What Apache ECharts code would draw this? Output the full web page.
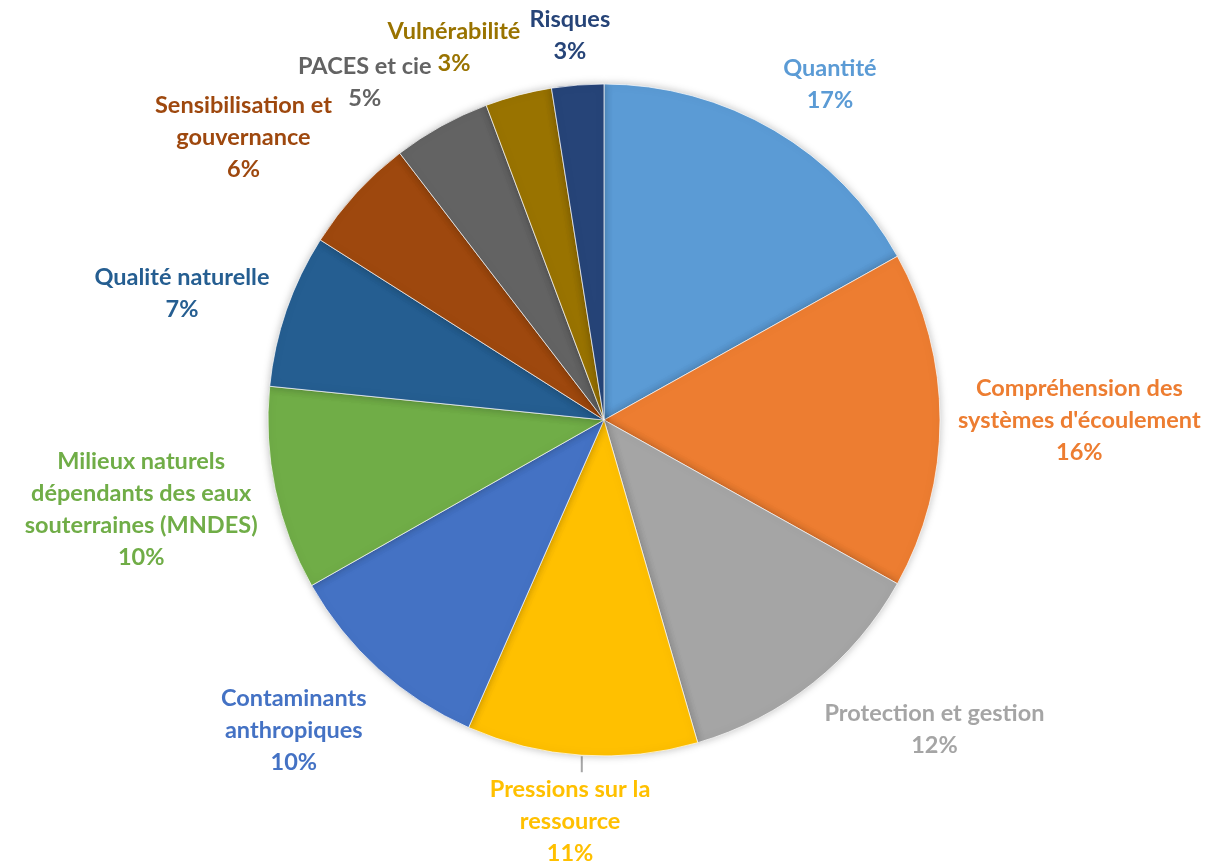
<!DOCTYPE html>
<html><head><meta charset="utf-8">
<script src="https://cdn.jsdelivr.net/npm/echarts@6/dist/echarts.min.js"></script>
<style>html,body{margin:0;padding:0;background:#fff}#c{width:1225px;height:865px}</style>
</head><body><div id="c"></div>
<script>
const categories = [
  "Quantité",
  "Compréhension des\nsystèmes d'écoulement",
  "Protection et gestion",
  "Pressions sur la\nressource",
  "Contaminants\nanthropiques",
  "Milieux naturels\ndépendants des eaux\nsouterraines (MNDES)",
  "Qualité naturelle",
  "Sensibilisation et\ngouvernance",
  "PACES et cie",
  "Vulnérabilité",
  "Risques"
];
const values = [16.9, 16.2, 12.4, 11.1, 10.2, 9.8, 7.4, 5.6, 4.7, 3.2, 2.5];
const colors = ["#5B9BD5", "#ED7D31", "#A5A5A5", "#FFC000", "#4472C4", "#70AD47",
                "#255E91", "#9E480E", "#636363", "#997300", "#264478"];

const CX = 604, CY = 420, R = 336, GAP = 18;
const total = values.reduce((a, b) => a + b, 0);
const mids = [];
let acc = 0;
values.forEach(v => { mids.push((acc + v / 2) / total * 2 * Math.PI); acc += v; });
function f(x) { return Math.max(-1, Math.min(1, 2 * x)); }
// small label nudges (dx, dy) mimicking the original's manual label placement
const nudges = { 5: [0, -10], 6: [0, 10], 7: [-11, 4], 8: [-3, 4], 9: [-26, 2], 0: [0, 2] };

const chart = echarts.init(document.getElementById('c'));
chart.setOption({
  animation: false,
  series: [{
    type: 'pie',
    center: [CX, CY],
    radius: R,
    startAngle: 90,
    clockwise: true,
    percentPrecision: 0,
    avoidLabelOverlap: false,
    data: categories.map((n, i) => ({
      name: n,
      value: values[i],
      itemStyle: { color: colors[i] },
      label: { color: colors[i] },
      labelLine: { show: i === 3 }
    })),
    itemStyle: {
      borderColor: 'rgba(255,255,255,0.7)',
      borderWidth: 1,
      shadowBlur: 8,
      shadowColor: 'rgba(0,0,0,0.25)'
    },
    label: {
      show: true,
      position: 'outside',
      formatter: '{b}\n{d}%',
      fontFamily: 'Lato',
      fontWeight: 'bold',
      fontSize: 23.5,
      lineHeight: 32
    },
    labelLine: {
      show: false,
      length: 10,
      length2: 0,
      lineStyle: { color: '#a6a6a6', width: 2 }
    },
    labelLayout: function (p) {
      const i = p.dataIndex, a = mids[i], s = Math.sin(a), c = Math.cos(a);
      const w = p.labelRect.width, h = p.labelRect.height;
      const ax = CX + (R + GAP) * s, ay = CY - (R + GAP) * c;
      let x = ax + w / 2 * f(s), y = ay - h / 2 * f(c);
      if (nudges[i]) { x += nudges[i][0]; y += nudges[i][1]; }
      const out = { x: x, y: y, align: 'center', verticalAlign: 'middle' };
      if (i === 3) {
        out.labelLinePoints = [[CX + (R + 1) * s, CY - (R + 1) * c], [CX + (R + 1) * s, y - h / 2 - 1]];
      }
      return out;
    }
  }]
});
</script>
</body></html>
